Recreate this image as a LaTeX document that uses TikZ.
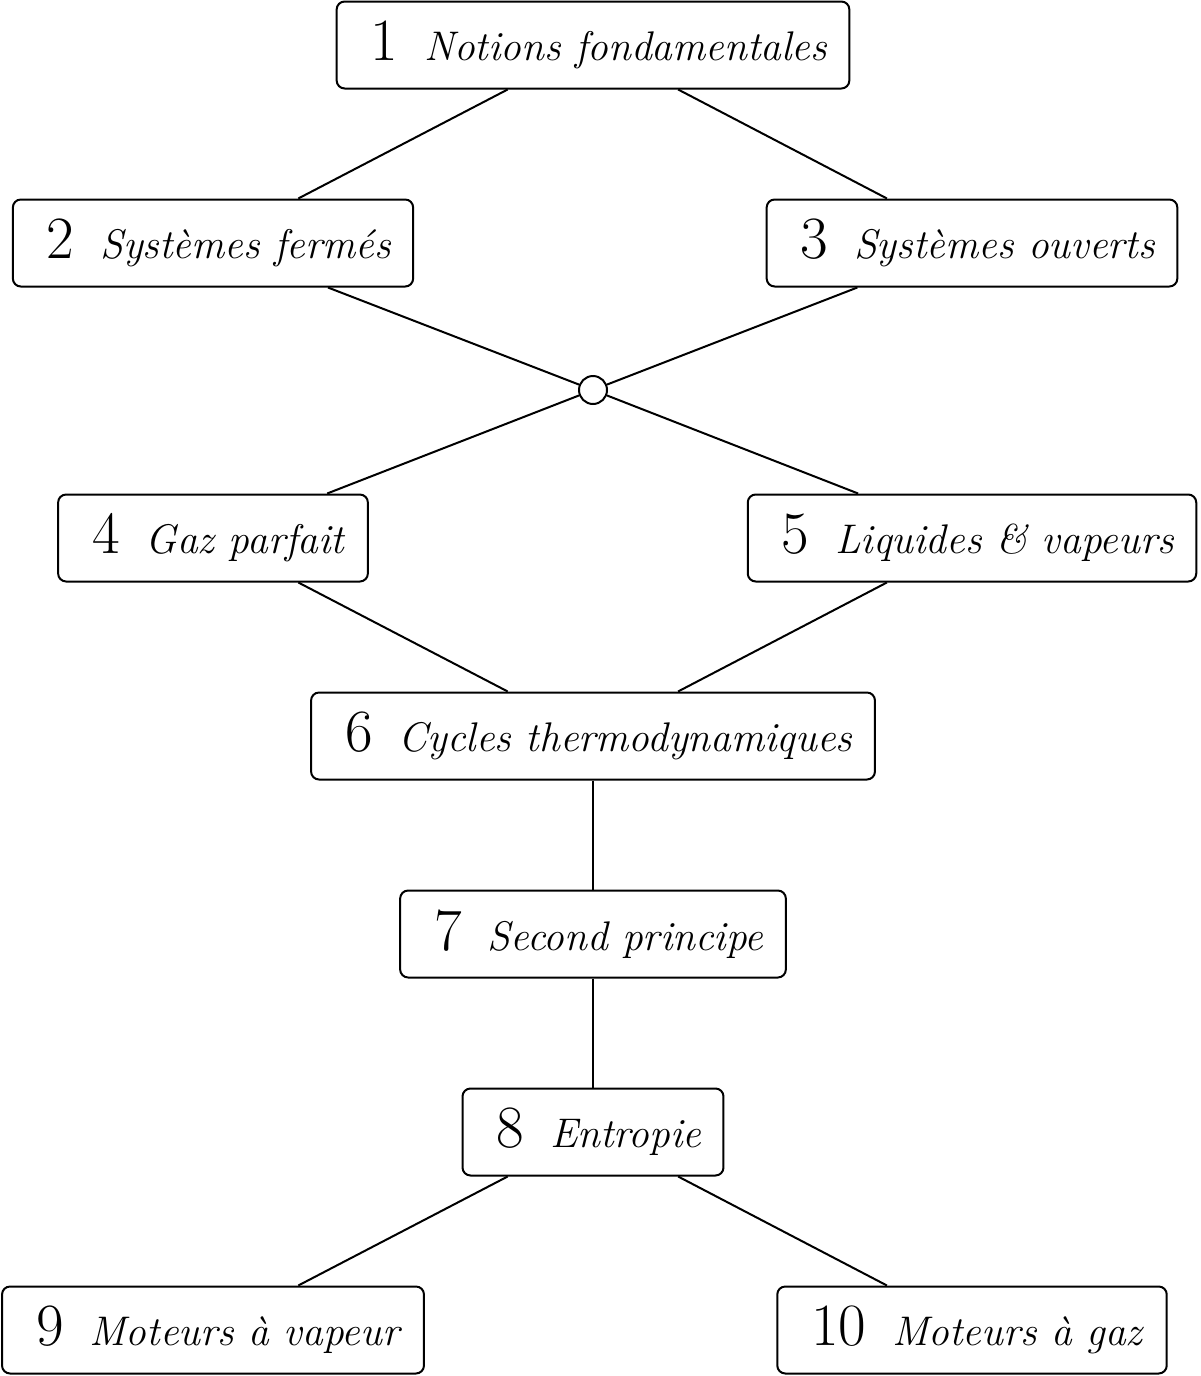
\documentclass[tikz,border=0pt]{standalone}
\usepackage{tikz}
\usetikzlibrary{positioning}
\newcommand{\chap}[2]{\hspace*{6pt}{\fontsize{30}{30}\selectfont #1}\hspace{13pt}\textit{#2}}

\begin{document}
\begin{tikzpicture}[x=0.5pt, y=-0.5pt, line width=1pt,
  part/.style={draw, rounded corners=4pt, inner xsep=11pt, inner ysep=0pt,
    minimum height=43.5pt, font=\fontsize{20.7}{24}\selectfont},
  knot/.style={draw, circle, inner sep=0pt, minimum size=14pt}]
  \useasboundingbox (0,0) rectangle (1200,1376);
  \node[part] (n1)  at (593,45)   {\chap{1}{Notions fondamentales}};
  \node[part] (n2)  at (213,243)  {\chap{2}{Systèmes fermés}};
  \node[part] (n3)  at (972,243)  {\chap{3}{Systèmes ouverts}};
  \node[knot] (x)   at (593,390)  {};
  \node[part] (n4)  at (213,538)  {\chap{4}{Gaz parfait}};
  \node[part] (n5)  at (972,538)  {\chap{5}{Liquides \& vapeurs}};
  \node[part] (n6)  at (593,736)  {\chap{6}{Cycles thermodynamiques}};
  \node[part] (n7)  at (593,934)  {\chap{7}{Second principe}};
  \node[part] (n8)  at (593,1132) {\chap{8}{Entropie}};
  \node[part] (n9)  at (213,1330) {\chap{9}{Moteurs à vapeur}};
  \node[part] (n10) at (972,1330) {\chap{10}{Moteurs à gaz}};
  \draw (n1) -- (n2);
  \draw (n1) -- (n3);
  \draw (n2) -- (x) -- (n5);
  \draw (n3) -- (x) -- (n4);
  \draw (n4) -- (n6);
  \draw (n5) -- (n6);
  \draw (n6) -- (n7);
  \draw (n7) -- (n8);
  \draw (n8) -- (n9);
  \draw (n8) -- (n10);
\end{tikzpicture}
\end{document}
